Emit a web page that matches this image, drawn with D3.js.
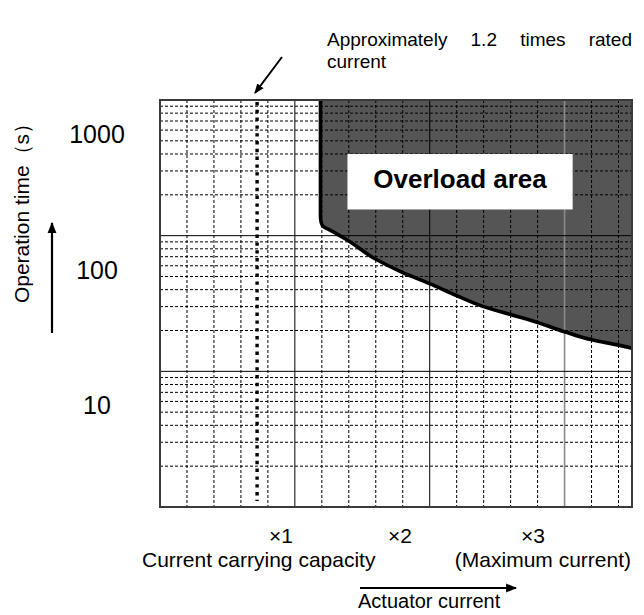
<!DOCTYPE html>
<html>
<head>
<meta charset="utf-8">
<script src="https://cdn.jsdelivr.net/npm/d3@7"></script>
<style>
  html, body { margin: 0; padding: 0; background: #fff; }
  svg { display: block; font-family: "Liberation Sans", Arial, sans-serif; }
</style>
</head>
<body>
<svg id="chart" width="644" height="615"></svg>
<script>
// Overload boundary: actuator current (multiple of the ×1 grid unit) vs. operation time (s)
const currentMultiple = [1.19, 1.19, 1.195, 1.215, 1.26, 1.38, 1.6, 1.8, 2.0, 2.2, 2.4, 2.6, 2.8, 3.0, 3.2, 3.4, 3.5];
const operationTime   = [1000, 140, 125, 116, 110, 94, 67, 53.5, 44.3, 36.2, 30.0, 26.2, 22.9, 19.6, 17.1, 15.6, 14.8];

// Dotted reference line (approx. 1.2 times rated current)
const ratedCurrentLine = [0.72];

// Axis labels
const yTickValues = [1000, 100, 10];
const xTickLabels = ["×1", "×2", "×3"];
const xMajorValues = [1, 2, 3];

const svg = d3.select("#chart");
const W = 644, H = 615;
const plot = { left: 160, right: 632, top: 100, bottom: 507 };

const x = d3.scaleLinear().domain([0, 3.5]).range([plot.left, plot.right]);
const y = d3.scaleLog().domain([1, 1000]).range([plot.bottom, plot.top]);

svg.append("rect").attr("width", W).attr("height", H).attr("fill", "#fff");

const defs = svg.append("defs");
defs.append("clipPath").attr("id", "plotClip")
  .append("rect")
  .attr("x", plot.left).attr("y", plot.top)
  .attr("width", plot.right - plot.left).attr("height", plot.bottom - plot.top);

const g = svg.append("g").attr("clip-path", "url(#plotClip)");

// ---- overload area fill ----
const pts = currentMultiple.map((c, i) => [c, operationTime[i]]);
const boundary = d3.line()
  .x(d => x(d[0])).y(d => y(d[1]))
  .curve(d3.curveMonotoneY);

g.append("path")
  .attr("d", boundary(pts) + `L${x(3.5)},${y(1000)}Z`)
  .attr("fill", "#555555");

// ---- grid ----
const minorX = d3.range(1, 18).filter(i => i % 5 !== 0).map(i => i * 0.2);
const minorY = [];
[1, 10, 100].forEach(dec => { for (let k = 2; k <= 9; k++) minorY.push(k * dec); });

g.selectAll(".gx").data(minorX).join("line")
  .attr("x1", d => x(d)).attr("x2", d => x(d))
  .attr("y1", plot.top).attr("y2", plot.bottom)
  .attr("stroke", "#000").attr("stroke-width", 1)
  .attr("stroke-dasharray", "3,2");

g.selectAll(".gy").data(minorY).join("line")
  .attr("x1", plot.left).attr("x2", plot.right)
  .attr("y1", d => y(d)).attr("y2", d => y(d))
  .attr("stroke", "#000").attr("stroke-width", 1)
  .attr("stroke-dasharray", "3,2");

g.selectAll(".mx").data(xMajorValues).join("line")
  .attr("x1", d => x(d)).attr("x2", d => x(d))
  .attr("y1", plot.top).attr("y2", plot.bottom)
  .attr("stroke", d => d === 3 ? "#8a8a8a" : "#000")
  .attr("stroke-width", d => d === 3 ? 1.6 : 1);

g.selectAll(".my").data([10, 100]).join("line")
  .attr("x1", plot.left).attr("x2", plot.right)
  .attr("y1", d => y(d)).attr("y2", d => y(d))
  .attr("stroke", "#000").attr("stroke-width", 1);

// ---- boundary curve ----
g.append("path")
  .attr("d", boundary(pts))
  .attr("fill", "none")
  .attr("stroke", "#000")
  .attr("stroke-width", 3.6)
  .attr("stroke-linejoin", "round");

// ---- dotted reference line ----
g.selectAll(".rated").data(ratedCurrentLine).join("line")
  .attr("x1", d => x(d)).attr("x2", d => x(d))
  .attr("y1", plot.top + 2).attr("y2", plot.bottom - 6)
  .attr("stroke", "#000").attr("stroke-width", 3.4)
  .attr("stroke-dasharray", "3.4,4.4");

// ---- "Overload area" label box ----
const box = { c0: 1.39, c1: 3.06, t0: 400, t1: 156 };
svg.append("rect")
  .attr("x", x(box.c0)).attr("y", y(box.t0))
  .attr("width", x(box.c1) - x(box.c0)).attr("height", y(box.t1) - y(box.t0))
  .attr("fill", "#fff");
svg.append("text")
  .attr("x", (x(box.c0) + x(box.c1)) / 2)
  .attr("y", y(box.t0) + 34)
  .attr("text-anchor", "middle")
  .attr("font-size", 26).attr("font-weight", "bold")
  .text("Overload area");

// ---- plot border ----
svg.append("rect")
  .attr("x", plot.left).attr("y", plot.top)
  .attr("width", plot.right - plot.left).attr("height", plot.bottom - plot.top)
  .attr("fill", "none").attr("stroke", "#3a3a3a").attr("stroke-width", 2);

// ---- y labels ----
svg.selectAll(".ylab").data(yTickValues).join("text")
  .attr("x", 97)
  .attr("y", d => y(d) + 43)
  .attr("text-anchor", "middle")
  .attr("font-size", 25)
  .text(d => d3.format("d")(d));

// rotated y title
svg.append("text")
  .attr("transform", "translate(29,208) rotate(-90)")
  .attr("text-anchor", "middle")
  .attr("font-size", 21)
  .text("Operation time（s）");

// arrowhead marker
defs.append("marker")
  .attr("id", "arrow")
  .attr("viewBox", "0 0 10 10")
  .attr("refX", 9).attr("refY", 5)
  .attr("markerWidth", 5).attr("markerHeight", 5)
  .attr("markerUnits", "strokeWidth")
  .attr("orient", "auto")
  .append("path").attr("d", "M0,1L10,5L0,9Z").attr("fill", "#000");

// upward arrow beside the y title
svg.append("line")
  .attr("x1", 52).attr("y1", 333).attr("x2", 52).attr("y2", 223)
  .attr("stroke", "#000").attr("stroke-width", 2.2)
  .attr("marker-end", "url(#arrow)");

// ---- x labels ----
const xLabelPos = [281, 400, 533];
svg.selectAll(".xlab").data(xTickLabels).join("text")
  .attr("x", (d, i) => xLabelPos[i])
  .attr("y", 543)
  .attr("text-anchor", "middle")
  .attr("font-size", 21)
  .text(d => d);

svg.append("text").attr("x", 142).attr("y", 567).attr("font-size", 21)
  .text("Current carrying capacity");
svg.append("text").attr("x", 631).attr("y", 567).attr("font-size", 21)
  .attr("text-anchor", "end")
  .text("(Maximum current)");

svg.append("line")
  .attr("x1", 360).attr("y1", 588).attr("x2", 516).attr("y2", 588)
  .attr("stroke", "#000").attr("stroke-width", 2.2)
  .attr("marker-end", "url(#arrow)");
svg.append("text").attr("x", 358).attr("y", 608).attr("font-size", 20)
  .text("Actuator current");

// ---- annotation for the dotted line (justified first line) ----
const words = ["Approximately", "1.2", "times", "rated"];
const lineLeft = 327, lineRight = 632;
const wNodes = words.map(w => svg.append("text")
  .attr("y", 46).attr("font-size", 19).text(w));
const widths = wNodes.map(n => n.node().getComputedTextLength());
const gap = (lineRight - lineLeft - d3.sum(widths)) / (words.length - 1);
let cx = lineLeft;
wNodes.forEach((n, i) => { n.attr("x", cx); cx += widths[i] + gap; });
svg.append("text").attr("x", lineLeft).attr("y", 68).attr("font-size", 19).text("current");

svg.append("line")
  .attr("x1", 282).attr("y1", 57).attr("x2", 255).attr("y2", 93)
  .attr("stroke", "#000").attr("stroke-width", 2)
  .attr("marker-end", "url(#arrow)");
</script>
</body>
</html>
